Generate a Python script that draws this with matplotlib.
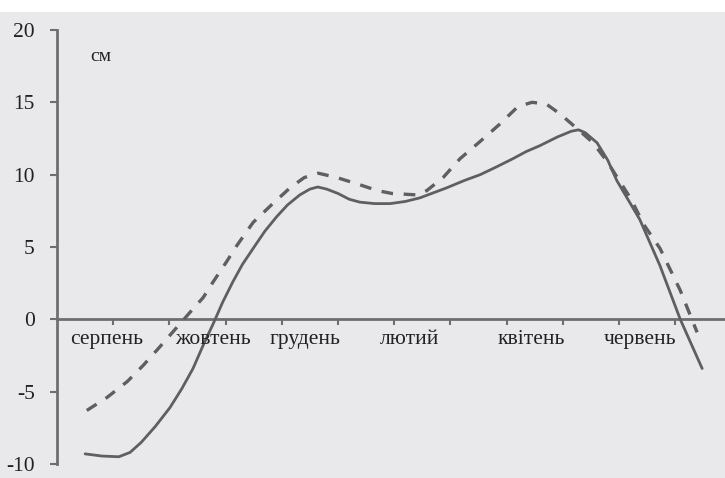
import numpy as np
import matplotlib.pyplot as plt
from matplotlib.patches import Rectangle

# month position (0 = start of серпень) and level, cm
solid_x = [0.50, 0.80, 1.10, 1.30, 1.50, 1.75, 2.01, 2.22, 2.42, 2.60, 2.78, 2.95,
           3.13, 3.30, 3.49, 3.70, 3.91, 4.10, 4.32, 4.50, 4.64, 4.80, 5.00, 5.20,
           5.39, 5.65, 5.93, 6.20, 6.46, 6.70, 6.94, 7.25, 7.53, 7.80, 8.11, 8.35,
           8.59, 8.90, 9.15, 9.28, 9.40, 9.61, 9.80, 9.96, 10.37, 10.73, 11.09, 11.48]
solid_y = [-9.3, -9.45, -9.5, -9.2, -8.5, -7.4, -6.1, -4.8, -3.4, -1.8, -0.3, 1.2,
           2.6, 3.8, 4.9, 6.1, 7.1, 7.9, 8.6, 9.0, 9.15, 9.0, 8.7, 8.3,
           8.1, 8.0, 8.0, 8.15, 8.4, 8.75, 9.1, 9.6, 10.0, 10.5, 11.1, 11.6,
           12.0, 12.6, 13.0, 13.1, 12.9, 12.2, 11.0, 9.6, 6.9, 3.7, 0.0, -3.4]

dash_x = [0.53, 0.89, 1.25, 1.53, 1.83, 2.10, 2.37, 2.60, 2.78, 3.02, 3.20, 3.49,
          3.84, 4.15, 4.40, 4.65, 4.98, 5.39, 5.70, 5.96, 6.41, 6.58, 6.87, 7.17,
          7.53, 7.88, 8.20, 8.45, 8.70, 8.95, 9.25, 9.54, 9.79, 10.20, 10.45, 10.73,
          11.09, 11.39]
dash_y = [-6.3, -5.4, -4.3, -3.2, -1.9, -0.7, 0.5, 1.5, 2.6, 4.0, 5.1, 6.7,
          8.0, 9.1, 9.8, 10.1, 9.8, 9.3, 8.9, 8.7, 8.6, 8.9, 9.8, 11.1,
          12.3, 13.5, 14.7, 15.0, 14.9, 14.2, 13.2, 12.2, 10.9, 8.4, 6.5, 4.9,
          2.0, -0.9]

month_labels = ['серпень', 'жовтень', 'грудень', 'лютий', 'квітень', 'червень']
label_x = [0.89, 2.78, 4.41, 6.28, 8.43, 10.37]
y_ticks = [-10, -5, 0, 5, 10, 15, 20]

plt.rcParams['font.family'] = ['Liberation Serif', 'DejaVu Serif']

line_col = '#5f5f5f'
axis_col = '#6e6e6e'
text_col = '#222222'

fig = plt.figure(figsize=(7.25, 4.78), dpi=100, facecolor='#e9e9eb')
fig.patches.append(Rectangle((0, 1 - 12 / 478), 1, 12 / 478, transform=fig.transFigure,
                             facecolor='white', edgecolor='none', zorder=-1))
ax = fig.add_axes([57 / 725, 14 / 478, 1 - 57 / 725, 434 / 478])
ax.set_facecolor('none')

ax.plot(solid_x, solid_y, color=line_col, lw=2.0, solid_joinstyle='round',
        solid_capstyle='round', zorder=3)
ax.plot(dash_x, dash_y, color=line_col, lw=2.4, dashes=(3.5, 3.2), zorder=3)

ax.set_xlim(0, (725 - 57) / 56.2)
ax.set_ylim(-10, 20)

for s in ['top', 'right']:
    ax.spines[s].set_visible(False)
ax.spines['bottom'].set_position(('data', 0))
ax.spines['bottom'].set_color(axis_col)
ax.spines['bottom'].set_linewidth(2.0)
ax.spines['left'].set_color(axis_col)
ax.spines['left'].set_linewidth(2.0)

ax.set_yticks(y_ticks)
ax.set_yticklabels([str(v) for v in y_ticks], fontsize=15.5, color=text_col)
ax.tick_params(axis='y', direction='out', length=5, width=1.5, color=axis_col, pad=11)

ax.set_xticks(np.arange(1, 12))
ax.set_xticklabels([])
ax.tick_params(axis='x', direction='out', length=4, width=1.5, color=axis_col)

for name, xp in zip(month_labels, label_x):
    ax.text(xp, -1.4, name, ha='center', va='center', fontsize=15.5, color=text_col)

ax.text(0.59, 18.2, 'см', ha='left', va='center', fontsize=14, color=text_col)

fig.savefig('out.png', dpi=100, facecolor=fig.get_facecolor())
